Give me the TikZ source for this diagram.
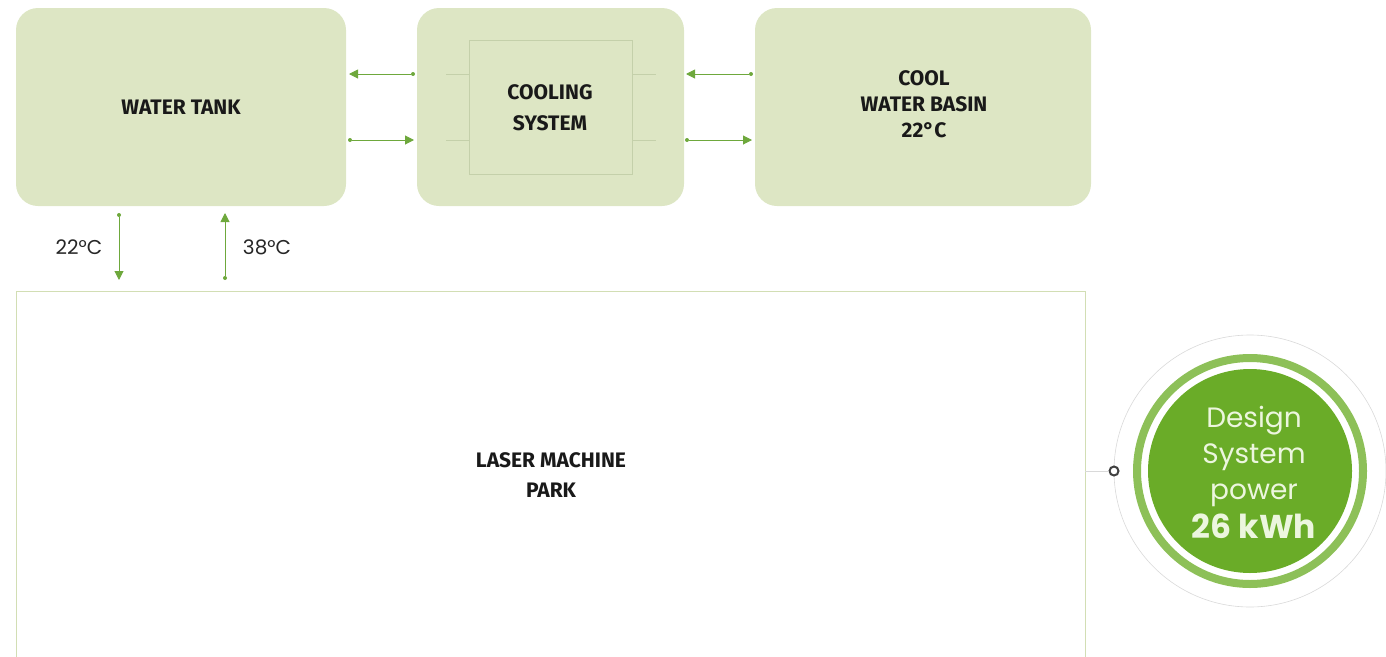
\documentclass[tikz,border=0pt]{standalone}
\usepackage{fontspec}
\setmainfont{Fira Sans}
\newfontfamily\roundfont{Poppins}
\usetikzlibrary{arrows.meta}
\definecolor{boxgreen}{RGB}{221,230,196}
\definecolor{innerline}{RGB}{196,208,170}
\definecolor{arrowgreen}{RGB}{110,168,60}
\definecolor{darkgreen}{RGB}{106,172,40}
\definecolor{ringgreen}{RGB}{141,192,88}
\definecolor{parkline}{RGB}{210,222,180}
\definecolor{txtlight}{RGB}{236,246,222}
\begin{document}
\begin{tikzpicture}[x=1pt,y=-1pt,
  block/.style={fill=boxgreen,draw=none,rounded corners=22pt,inner sep=0pt},
  lbl/.style={font=\fontsize{21}{25}\selectfont\bfseries,text=black!90,align=center},
  flow/.style={draw=arrowgreen,line width=1pt,-{Triangle[length=9pt,width=9pt]}},
  tail/.style={circle,fill=arrowgreen,inner sep=0pt,minimum size=4pt},
  temp/.style={font=\roundfont\fontsize{20}{24}\selectfont,text=black!85}]
\useasboundingbox (0,0) rectangle (1386,656);
% blocks
\path[block] (16,8) rectangle (346,206);
\node[lbl] (tank) at (181,107) {WATER TANK};
\path[block] (417,8) rectangle (684,206);
\draw[innerline,line width=0.6pt] (469,40) rectangle (632,174);
\foreach \yy in {74,140}{
  \draw[innerline,line width=0.6pt] (446,\yy) -- (469,\yy);
  \draw[innerline,line width=0.6pt] (632,\yy) -- (656,\yy);
}
\node[lbl] (cool) at (550,108) {COOLING\\[6pt]SYSTEM};
\path[block] (755,8) rectangle (1091,206);
\node[lbl] (basin) at (924,104) {COOL\\[1pt]WATER BASIN\\[1pt]22°C};
% horizontal arrows
\node[tail] (t1) at (413,74) {};
\coordinate (h1) at (349,74);
\draw[flow] (t1) -- (h1);
\node[tail] (t2) at (350,140) {};
\coordinate (h2) at (414,140);
\draw[flow] (t2) -- (h2);
\node[tail] (t3) at (751,74) {};
\coordinate (h3) at (686,74);
\draw[flow] (t3) -- (h3);
\node[tail] (t4) at (687,140) {};
\coordinate (h4) at (752,140);
\draw[flow] (t4) -- (h4);
% vertical arrows
\node[tail] (v1) at (119,215) {};
\coordinate (w1) at (119,280);
\draw[flow] (v1) -- (w1);
\node[tail] (v2) at (225,278) {};
\coordinate (w2) at (225,213);
\draw[flow] (v2) -- (w2);
\node[temp] (c22) at (79,247) {22°C};
\node[temp] (c38) at (267,247) {38°C};
% laser machine park
\draw[parkline,line width=0.8pt] (16,660) -- (16,291) -- (1085,291) -- (1085,660);
\node[lbl] (park) at (551,475) {LASER MACHINE\\[5pt]PARK};
% power circle
\draw[black!15,line width=0.6pt] (1250,471) circle (136);
\draw[ringgreen,line width=8pt] (1250,471) circle (113);
\fill[darkgreen] (1250,471) circle (102);
\node[circle,draw=black!75,line width=2pt,fill=white,inner sep=0pt,minimum size=9pt] (port) at (1114,471) {};
\draw[black!15,line width=0.6pt] (1085,471) -- (port);
\node[font=\roundfont\fontsize{28}{36}\selectfont,text=txtlight,align=center] (power) at (1254,472)
  {Design\\System\\power\\[3pt]{\fontsize{33}{38}\selectfont\bfseries 26 kWh}};
\end{tikzpicture}
\end{document}
